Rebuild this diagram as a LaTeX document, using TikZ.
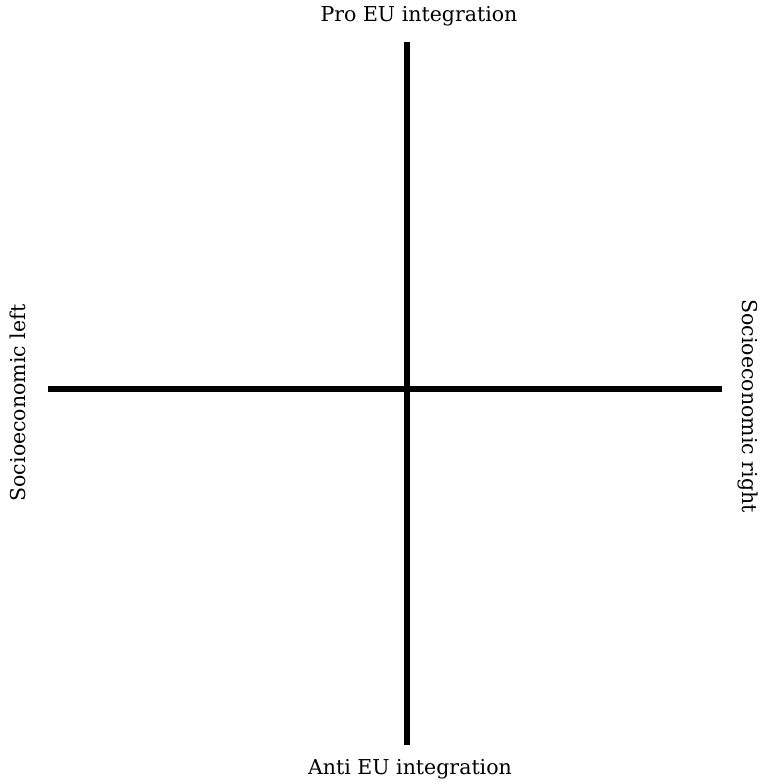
\documentclass[tikz,border=0pt]{standalone}
\usepackage{fontspec}
\setmainfont{DejaVu Serif}
\usepackage{tikz}
\usetikzlibrary{positioning}
\tikzset{
    axisline/.style={line width=5.5pt, black},
    axislabel/.style={font=\fontsize{20.5}{24}\selectfont, inner sep=0pt}
}

\begin{document}
\begin{tikzpicture}[x=1pt, y=-1pt]
    \useasboundingbox (0,0) rectangle (766,784);
    % axis end points
    \coordinate (north) at (407,42);
    \coordinate (south) at (407,745);
    \coordinate (west) at (48,389);
    \coordinate (east) at (722,389);
    \draw[axisline] (north) -- (south);
    \draw[axisline] (west) -- (east);
    % labels
    \node[axislabel, anchor=base] (pro) at (419,22) {Pro EU integration};
    \node[axislabel, anchor=base] (anti) at (410,774) {Anti EU integration};
    \node[axislabel, anchor=base, rotate=90] (left) at (25,403) {Socioeconomic left};
    \node[axislabel, anchor=base, rotate=-90] (right) at (742,406) {Socioeconomic right};
\end{tikzpicture}
\end{document}
